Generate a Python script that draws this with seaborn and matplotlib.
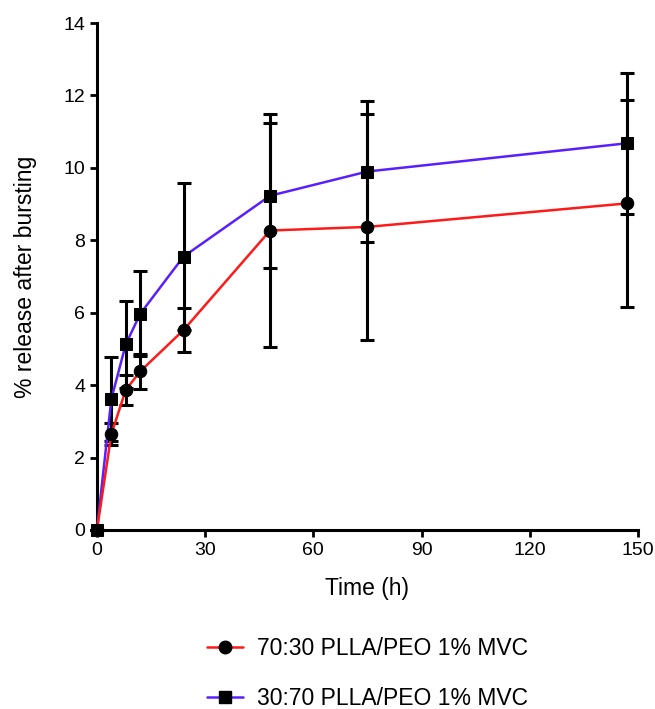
import matplotlib
matplotlib.use("Agg")
import matplotlib.pyplot as plt
import pandas as pd
import seaborn as sns

# time points (h)
time_h = [0, 4, 8, 12, 24, 48, 75, 147]

# 70:30 PLLA/PEO 1% MVC
release_7030 = [0, 2.65, 3.87, 4.38, 5.52, 8.27, 8.37, 9.02]
sd_7030 = [0, 0.30, 0.42, 0.49, 0.60, 3.22, 3.12, 2.85]

# 30:70 PLLA/PEO 1% MVC
release_3070 = [0, 3.62, 5.13, 5.97, 7.55, 9.23, 9.90, 10.68]
sd_3070 = [0, 1.15, 1.20, 1.17, 2.03, 2.00, 1.95, 1.95]

labels = ["70:30 PLLA/PEO 1% MVC", "30:70 PLLA/PEO 1% MVC"]
colors = ["#ff1a1a", "#5a1fff"]

frame = pd.concat([
    pd.DataFrame({"time": time_h, "release": release_7030, "sd": sd_7030, "group": labels[0]}),
    pd.DataFrame({"time": time_h, "release": release_3070, "sd": sd_3070, "group": labels[1]}),
])

sns.set_theme(style="ticks")
plt.rcParams["font.family"] = ["Liberation Sans", "DejaVu Sans"]
plt.rcParams["text.color"] = "black"
plt.rcParams["axes.labelcolor"] = "black"
FS = 16.5
TICK_FS = 14

fig = plt.figure(figsize=(6.55, 7.09), dpi=100)
ax = fig.add_axes([0.148, 0.2525, 0.826, 0.715])

for label in labels[::-1]:
    sub = frame[frame["group"] == label]
    ax.errorbar(sub["time"], sub["release"], yerr=sub["sd"], fmt="none",
                ecolor="black", elinewidth=2.2, capsize=5, capthick=2.2,
                zorder=2, clip_on=False)

sns.lineplot(data=frame, x="time", y="release", hue="group", style="group",
             hue_order=labels[::-1], style_order=labels[::-1],
             palette=colors[::-1], markers={labels[0]: "o", labels[1]: "s"},
             dashes=False, markersize=9, markerfacecolor="black",
             markeredgecolor="black", linewidth=1.8, ax=ax, legend=False,
             zorder=3, clip_on=False)

ax.set_xlim(0, 150)
ax.set_ylim(0, 14)
ax.set_xticks(range(0, 151, 30))
ax.set_yticks(range(0, 15, 2))
ax.set_xlabel("Time (h)", fontsize=FS, labelpad=13)
ax.set_ylabel("% release after bursting", fontsize=FS, labelpad=19)
ax.tick_params(axis="both", labelsize=TICK_FS, width=2, length=5, color="black",
               labelcolor="black")
for side in ["left", "bottom"]:
    ax.spines[side].set_linewidth(2.2)
    ax.spines[side].set_color("black")
sns.despine(ax=ax)

handles = [
    plt.Line2D([], [], color=colors[0], marker="o", markersize=9,
               markerfacecolor="black", markeredgecolor="black", linewidth=1.8),
    plt.Line2D([], [], color=colors[1], marker="s", markersize=9,
               markerfacecolor="black", markeredgecolor="black", linewidth=1.8),
]
fig.legend(handles, labels, loc="center", bbox_to_anchor=(0.561, 0.05),
           frameon=False, fontsize=FS, handlelength=1.6, handletextpad=0.6,
           labelspacing=1.2)

fig.savefig("out.png", dpi=100)
